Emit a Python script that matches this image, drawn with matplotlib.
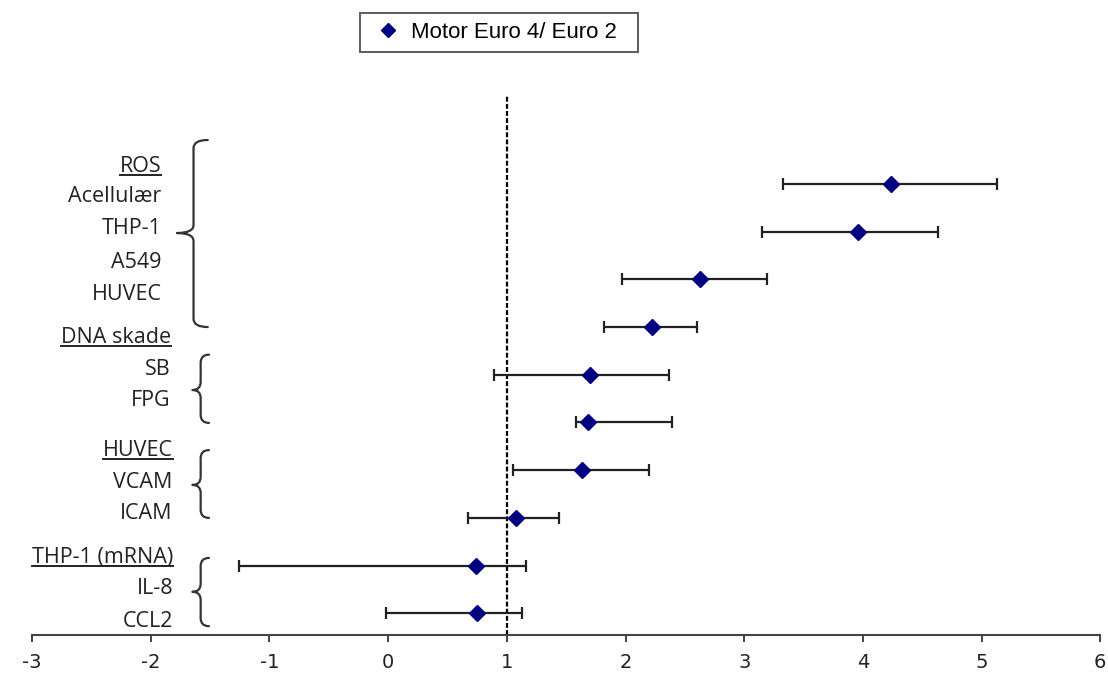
import matplotlib
matplotlib.use('Agg')
import matplotlib.pyplot as plt
import numpy as np
from matplotlib.lines import Line2D
from matplotlib.path import Path
from matplotlib.patches import PathPatch

plt.rcParams['axes.unicode_minus'] = False

# ratio Euro 4 / Euro 2 with 95% interval, top to bottom
endpoints = ['Acellulær', 'THP-1', 'A549', 'HUVEC', 'SB', 'FPG', 'VCAM', 'ICAM', 'IL-8', 'CCL2']
ratio = [4.24, 3.96, 2.63, 2.22, 1.70, 1.68, 1.63, 1.08, 0.74, 0.75]
lower = [3.33, 3.15, 1.97, 1.82, 0.89, 1.58, 1.05, 0.67, -1.26, -0.02]
upper = [5.13, 4.63, 3.19, 2.60, 2.37, 2.39, 2.20, 1.44, 1.16, 1.13]

series_name = 'Motor Euro 4/ Euro 2'
x_ticks = [-3, -2, -1, 0, 1, 2, 3, 4, 5, 6]

# left-hand text block: (text, underlined)
side_labels = [('ROS', True), ('Acellulær', False), ('THP-1', False), ('A549', False),
               ('HUVEC', False), ('DNA skade', True), ('SB', False), ('FPG', False),
               ('HUVEC', True), ('VCAM', False), ('ICAM', False), ('THP-1 (mRNA)', True),
               ('IL-8', False), ('CCL2', False)]

# layout of the text block and braces (data units, y runs downward)
label_y = [-0.37, 0.27, 0.94, 1.64, 2.31, 3.21, 3.88, 4.55, 5.58, 6.25, 6.90, 7.84, 8.49, 9.18]
label_x = [-1.91, -1.91, -1.91, -1.91, -1.91, -1.83, -1.83, -1.83, -1.81, -1.82, -1.82, -1.81, -1.81, -1.81]
braces = [  # x, top, bottom, middle, hook, point
    (-1.64, -0.92, 3.00, 1.03, 0.12, 0.14),
    (-1.58, 3.58, 5.01, 4.32, 0.07, 0.07),
    (-1.58, 5.58, 7.00, 6.31, 0.07, 0.07),
    (-1.58, 7.84, 9.27, 8.55, 0.07, 0.07),
]

navy = '#000080'
ink = '#222222'

fig = plt.figure(figsize=(11.08, 6.86), dpi=100)
ax = fig.add_axes([0.029, 0.074, 0.964, 0.788])

y = np.arange(len(endpoints))
ratio_a = np.array(ratio)
xerr = np.vstack([ratio_a - np.array(lower), np.array(upper) - ratio_a])
ax.errorbar(ratio_a, y, xerr=xerr, fmt='D', color=navy, markersize=8.5,
            ecolor=ink, elinewidth=1.6, capsize=4.5, capthick=1.6, zorder=3)

ax.axvline(1, color='black', lw=1.6, linestyle=(0, (2.2, 1.0)), zorder=2)

ax.set_xlim(-3, 6)
ax.set_ylim(9.46, -1.87)
ax.set_xticks(x_ticks)
ax.set_yticks([])
for side in ['left', 'top', 'right']:
    ax.spines[side].set_visible(False)
ax.spines['bottom'].set_color('#444444')
ax.spines['bottom'].set_linewidth(1.5)
ax.tick_params(axis='x', direction='out', length=5, width=1.3, color='#333333',
               labelsize=14, labelcolor=ink, pad=8)
for t in ax.get_xticklabels():
    t.set_family('DejaVu Sans')


def draw_brace(ax, x, top, bot, mid, hook, point, r=0.17):
    verts = [(x + hook, top), (x, top), (x, top + r), (x, mid - r),
             (x, mid), (x - point, mid), (x, mid), (x, mid + r),
             (x, bot - r), (x, bot), (x + hook, bot)]
    codes = [Path.MOVETO, Path.CURVE3, Path.CURVE3, Path.LINETO,
             Path.CURVE3, Path.CURVE3, Path.CURVE3, Path.CURVE3,
             Path.LINETO, Path.CURVE3, Path.CURVE3]
    ax.add_patch(PathPatch(Path(verts, codes), fill=False, edgecolor='#333333',
                           lw=1.6, capstyle='round', joinstyle='round'))


for b in braces:
    draw_brace(ax, *b)

texts = []
for (txt, under), lx, ly in zip(side_labels, label_x, label_y):
    t = ax.text(lx, ly, txt, ha='right', va='center', fontsize=15.5,
                family='Open Sans', color=ink)
    texts.append((t, under))

handle = Line2D([], [], marker='D', color=navy, linestyle='None', markersize=7)
leg = fig.legend([handle], [series_name + '  '], loc='center',
                 bbox_to_anchor=(0.45, 0.953), frameon=True, fancybox=False,
                 edgecolor='#333333', handlelength=1.8, handletextpad=0.1,
                 borderpad=0.4, borderaxespad=0,
                 prop={'family': 'Liberation Sans', 'size': 16})
leg.get_frame().set_linewidth(1.4)

# underline the group headings
fig.canvas.draw()
renderer = fig.canvas.get_renderer()
inv = fig.transFigure.inverted()
for t, under in texts:
    if not under:
        continue
    bb = t.get_window_extent(renderer)
    (x0, y0), (x1, _) = inv.transform([[bb.x0, bb.y0 + 2], [bb.x1, bb.y0]])
    fig.add_artist(Line2D([x0, x1], [y0, y0], transform=fig.transFigure,
                          color=ink, lw=1.4))

fig.savefig('out.png', dpi=100)
